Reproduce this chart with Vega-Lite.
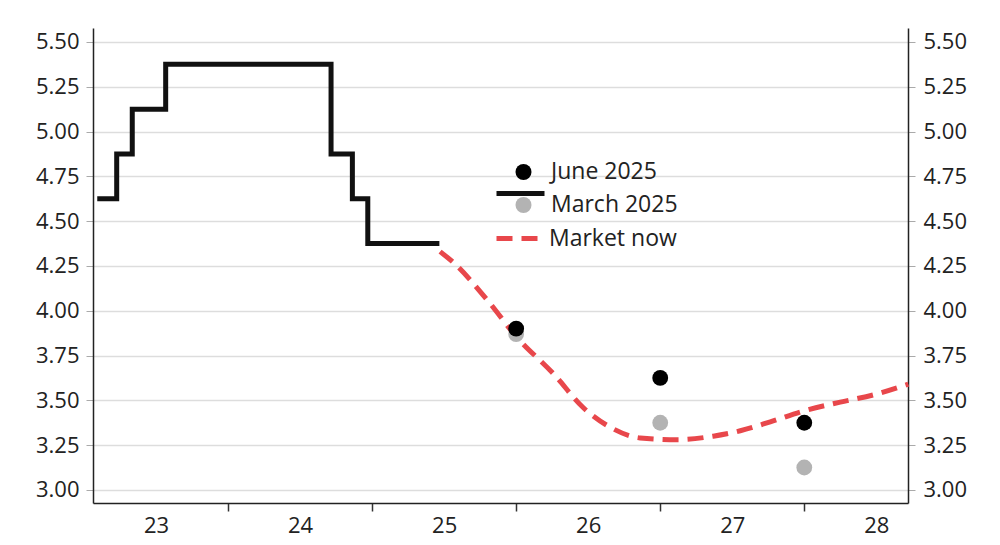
{
  "$schema": "https://vega.github.io/schema/vega-lite/v6.json",
  "autosize": {"type": "none"},
  "padding": {"left": 93, "top": 28, "right": 92, "bottom": 42},
  "width": 815,
  "height": 475,
  "background": "white",
  "config": {
    "view": {"stroke": null},
    "font": "Open Sans",
    "axis": {"labelFont": "Open Sans", "labelColor": "#222222", "labelFontSize": 22},
    "legend": {"labelFont": "Open Sans", "labelColor": "#222222", "labelFontSize": 23, "padding": 0, "title": null}
  },
  "data": {
    "values": [
      {"series": "Fed funds", "date": 2023.092, "rate": 4.625},
      {"series": "Fed funds", "date": 2023.227, "rate": 4.875},
      {"series": "Fed funds", "date": 2023.335, "rate": 5.125},
      {"series": "Fed funds", "date": 2023.567, "rate": 5.375},
      {"series": "Fed funds", "date": 2024.715, "rate": 4.875},
      {"series": "Fed funds", "date": 2024.863, "rate": 4.625},
      {"series": "Fed funds", "date": 2024.97, "rate": 4.375},
      {"series": "Fed funds", "date": 2025.467, "rate": 4.375},
      {"series": "Market now", "date": 2025.472, "rate": 4.33},
      {"series": "Market now", "date": 2025.563, "rate": 4.27},
      {"series": "Market now", "date": 2025.799, "rate": 4.06},
      {"series": "Market now", "date": 2026.007, "rate": 3.85},
      {"series": "Market now", "date": 2026.257, "rate": 3.65},
      {"series": "Market now", "date": 2026.465, "rate": 3.46},
      {"series": "Market now", "date": 2026.653, "rate": 3.35},
      {"series": "Market now", "date": 2026.861, "rate": 3.29},
      {"series": "Market now", "date": 2027.118, "rate": 3.28},
      {"series": "Market now", "date": 2027.368, "rate": 3.3},
      {"series": "Market now", "date": 2027.556, "rate": 3.33},
      {"series": "Market now", "date": 2027.764, "rate": 3.38},
      {"series": "Market now", "date": 2027.993, "rate": 3.44},
      {"series": "Market now", "date": 2028.25, "rate": 3.49},
      {"series": "Market now", "date": 2028.479, "rate": 3.53},
      {"series": "Market now", "date": 2028.722, "rate": 3.59},
      {"series": "March 2025", "date": 2026.0, "rate": 3.87},
      {"series": "March 2025", "date": 2027.0, "rate": 3.375},
      {"series": "March 2025", "date": 2028.0, "rate": 3.125},
      {"series": "June 2025", "date": 2026.0, "rate": 3.9},
      {"series": "June 2025", "date": 2027.0, "rate": 3.625},
      {"series": "June 2025", "date": 2028.0, "rate": 3.375}
    ]
  },
  "layer": [
    {
      "transform": [{"filter": "datum.series === 'Fed funds'"}],
      "mark": {"type": "line", "interpolate": "step-after", "color": "#111111", "strokeWidth": 5, "strokeCap": "butt"},
      "encoding": {
        "x": {
          "field": "date", "type": "quantitative",
          "scale": {"domain": [2023.0625, 2028.72], "nice": false, "zero": false},
          "axis": {"orient": "bottom", "title": null, "values": [2024, 2025, 2026, 2027, 2028], "labels": false, "grid": false, "tickSize": 8, "tickColor": "#333333", "tickWidth": 1.5, "domainColor": "#222222", "domainWidth": 1.5}
        },
        "y": {
          "field": "rate", "type": "quantitative",
          "scale": {"domain": [2.927, 5.578], "nice": false, "zero": false},
          "axis": {"orient": "left", "title": null, "values": [3, 3.25, 3.5, 3.75, 4, 4.25, 4.5, 4.75, 5, 5.25, 5.5], "format": ".2f", "grid": true, "gridColor": "#dddddd", "gridWidth": 1.5, "tickSize": 7, "tickColor": "#aaaaaa", "labelPadding": 7, "domainColor": "#222222", "domainWidth": 1.5}
        },
        "opacity": {
          "field": "series", "type": "nominal",
          "scale": {"domain": ["Fed funds"], "range": [1]},
          "legend": {
            "orient": "none", "legendX": 401, "legendY": 139,
            "labelExpr": "''", "symbolType": "stroke", "symbolSize": 2304,
            "symbolStrokeColor": "#111111", "symbolStrokeWidth": 5, "labelOffset": 0
          }
        }
      }
    },
    {
      "transform": [{"filter": "datum.series === 'Market now'"}],
      "mark": {"type": "line", "interpolate": "monotone", "strokeWidth": 5, "color": "#e8474b", "strokeCap": "butt"},
      "encoding": {
        "x": {
          "field": "date", "type": "quantitative",
          "axis": {"orient": "bottom", "title": null, "values": [2023.5, 2024.5, 2025.5, 2026.5, 2027.5, 2028.5], "labelExpr": "format(floor(datum.value) - 2000, 'd')", "ticks": false, "domain": false, "grid": false, "labelPadding": 12}
        },
        "y": {
          "field": "rate", "type": "quantitative",
          "axis": {"orient": "right", "title": null, "values": [3, 3.25, 3.5, 3.75, 4, 4.25, 4.5, 4.75, 5, 5.25, 5.5], "format": ".2f", "grid": false, "tickSize": 7, "tickColor": "#aaaaaa", "labelPadding": 8, "domainColor": "#222222", "domainWidth": 1.5}
        },
        "strokeDash": {
          "field": "series", "type": "nominal",
          "scale": {"domain": ["Market now"], "range": [[16, 9]]},
          "legend": {
            "orient": "none", "legendX": 401, "legendY": 184,
            "symbolType": "stroke", "symbolSize": 2304,
            "symbolStrokeColor": "#e8474b", "symbolStrokeWidth": 5, "labelOffset": 2
          }
        }
      }
    },
    {
      "transform": [{"filter": "datum.series === 'June 2025' || datum.series === 'March 2025'"}],
      "mark": {"type": "circle", "size": 250, "opacity": 1},
      "encoding": {
        "x": {"field": "date", "type": "quantitative", "axis": null},
        "y": {"field": "rate", "type": "quantitative", "axis": null},
        "color": {
          "field": "series", "type": "nominal",
          "scale": {"domain": ["June 2025", "March 2025"], "range": ["#000000", "#b3b3b3"]},
          "legend": {
            "orient": "none", "legendX": 419, "legendY": 132.5,
            "symbolType": "circle", "symbolSize": 256, "symbolOpacity": 1,
            "labelOffset": 16, "rowPadding": 9
          }
        }
      }
    }
  ],
  "resolve": {"axis": {"x": "independent", "y": "independent"}}
}
